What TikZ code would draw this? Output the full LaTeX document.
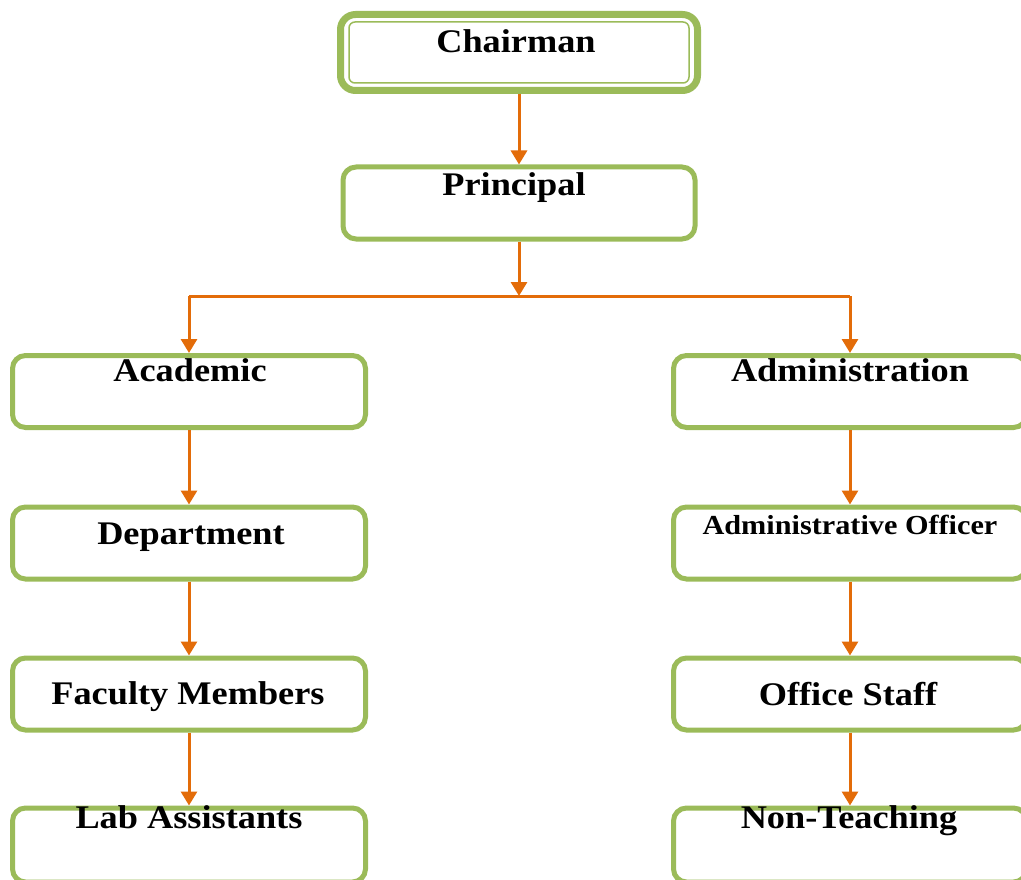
\documentclass[tikz,border=0pt]{standalone}
\usepackage{fontspec}
\setmainfont[FakeStretch=1.1]{Liberation Serif}
\usetikzlibrary{arrows.meta}
\definecolor{boxgreen}{HTML}{9BBB59}
\definecolor{linkorange}{HTML}{E36C09}
\tikzset{
  orgbox/.style={draw=boxgreen, line width=5pt, rounded corners=13pt, fill=white, inner sep=0pt},
  lbl/.style={anchor=base, inner sep=0pt, font=\fontsize{33}{36}\selectfont\bfseries},
  smalllbl/.style={anchor=base, inner sep=0pt, font=\fontsize{27.5}{30}\selectfont\bfseries},
  conn/.style={draw=linkorange, line width=3pt, -{Triangle[width=16pt,length=14pt]}},
  plainconn/.style={draw=linkorange, line width=3pt}
}
\begin{document}
\begin{tikzpicture}[x=1pt,y=-1pt]
\useasboundingbox (0,0) rectangle (1021,880);
\clip (0,0) rectangle (1021,880);
% Chairman (double border)
\node[orgbox, line width=7pt, rounded corners=15pt, minimum width=357pt, minimum height=76pt] (chair) at (519,52.5) {};
\node[draw=boxgreen, line width=1.5pt, rounded corners=6pt, inner sep=0pt, minimum width=340pt, minimum height=61pt] (chairin) at (519,52.5) {};
\node[lbl] (chairT) at (516,53) {Chairman};
% Principal
\node[orgbox, minimum width=352pt, minimum height=72pt] (prin) at (519,203) {};
\node[lbl] (prinT) at (514,196) {Principal};
% Left column
\node[orgbox, minimum width=353pt, minimum height=72pt] (acad) at (189,391.5) {};
\node[lbl] (acadT) at (190,381) {Academic};
\node[orgbox, minimum width=353pt, minimum height=72pt] (dept) at (189,543) {};
\node[lbl] (deptT) at (191,544) {Department};
\node[orgbox, minimum width=353pt, minimum height=72pt] (fac) at (189,694) {};
\node[lbl] (facT) at (188,704) {Faculty Members};
\node[orgbox, minimum width=353pt, minimum height=74pt] (lab) at (189,845) {};
\node[lbl] (labT) at (189,828) {Lab Assistants};
% Right column
\node[orgbox, minimum width=353pt, minimum height=72pt] (admin) at (850,391.5) {};
\node[lbl] (adminT) at (850,381) {Administration};
\node[orgbox, minimum width=353pt, minimum height=72pt] (aoff) at (850,543) {};
\node[smalllbl] (aoffT) at (850,534) {Administrative Officer};
\node[orgbox, minimum width=353pt, minimum height=72pt] (ostaff) at (850,694) {};
\node[lbl] (ostaffT) at (848,705) {Office Staff};
\node[orgbox, minimum width=353pt, minimum height=74pt] (nont) at (850,845) {};
\node[lbl] (nontT) at (849,828) {Non-Teaching};
% Connectors
\coordinate (j) at (519,296);
\coordinate (jl) at (189,296);
\coordinate (jr) at (850,296);
\draw[conn] (chair.south) -- (prin.north);
\draw[conn] (prin.south) -- (j);
\draw[plainconn] (jl) -- (jr);
\draw[conn] (jl) -- (acad.north);
\draw[conn] (jr) -- (admin.north);
\draw[conn] (acad.south) -- (dept.north);
\draw[conn] (dept.south) -- (fac.north);
\draw[conn] (fac.south) -- (lab.north);
\draw[conn] (admin.south) -- (aoff.north);
\draw[conn] (aoff.south) -- (ostaff.north);
\draw[conn] (ostaff.south) -- (nont.north);
\end{tikzpicture}
\end{document}
